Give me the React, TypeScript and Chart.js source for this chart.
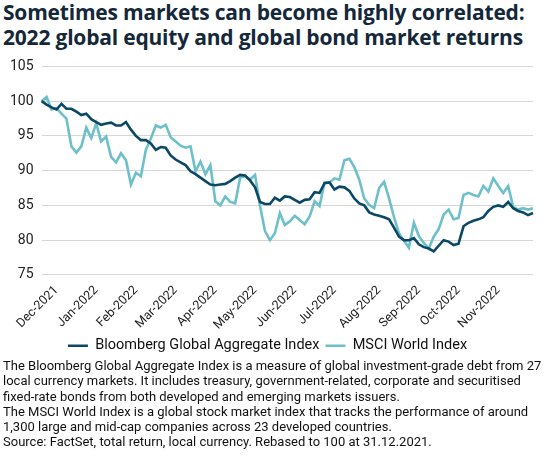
import { useEffect, useRef } from "react";
import Chart from "chart.js/auto";

// sampled roughly every 2-3 trading days, 31.12.2021 -> end of 2022
const bondIndex = [
  100.0, 99.5, 99.1, 98.8, 99.6, 98.9, 98.9, 98.5, 98.0, 98.2,
  97.4, 97.0, 96.6, 96.8, 96.9, 96.5, 96.5, 97.0, 95.9, 95.0,
  94.4, 94.4, 93.9, 93.0, 93.4, 93.3, 92.2, 91.6, 91.2, 90.8,
  89.9, 89.5, 89.0, 88.5, 88.0, 87.9, 88.0, 88.1, 88.5, 89.0,
  89.4, 89.3, 88.6, 87.6, 85.5, 85.2, 85.2, 86.1, 85.7, 86.3,
  86.2, 85.8, 85.4, 85.8, 85.9, 86.9, 86.8, 88.2, 88.3, 87.3,
  87.7, 87.6, 87.1, 86.0, 85.3, 85.0, 84.0, 83.7, 83.5, 83.3,
  83.0, 81.8, 80.5, 80.0, 80.0, 80.3, 79.4, 79.0, 78.8, 78.4,
  79.2, 80.0, 79.8, 79.3, 79.5, 82.0, 82.5, 82.8, 83.0, 83.3,
  84.2, 84.8, 85.0, 84.8, 85.5, 84.6, 84.2, 84.0, 83.6, 83.9,
];

const equityIndex = [
  100.0, 100.6, 98.8, 99.0, 98.2, 97.5, 93.5, 92.6, 93.5, 96.2,
  94.7, 96.8, 94.2, 94.9, 92.0, 91.2, 92.5, 91.5, 88.0, 89.7,
  89.2, 93.0, 94.6, 96.5, 96.2, 96.6, 94.8, 94.2, 93.6, 93.3,
  93.5, 89.9, 91.3, 89.5, 90.8, 85.6, 85.0, 86.3, 85.5, 85.3,
  89.0, 89.2, 88.7, 89.4, 85.0, 81.3, 80.0, 81.0, 83.9, 82.2,
  82.7, 83.5, 82.9, 82.3, 83.4, 85.6, 84.9, 88.3, 88.3, 88.9,
  88.7, 91.5, 91.7, 90.5, 88.7, 86.0, 85.1, 84.6, 87.5, 88.4,
  86.0, 83.3, 81.0, 79.9, 78.9, 82.5, 80.6, 79.6, 78.8, 80.5,
  81.6, 83.7, 84.4, 83.0, 83.2, 86.5, 86.8, 86.5, 86.3, 87.8,
  87.0, 88.9, 87.8, 86.8, 87.8, 84.8, 84.4, 84.6, 84.4, 84.6,
];

const monthLabels = [
  "Dec-2021", "Jan-2022", "Feb-2022", "Mar-2022", "Apr-2022", "May-2022",
  "Jun-2022", "Jul-2022", "Aug-2022", "Sep-2022", "Oct-2022", "Nov-2022",
];
const monthTickIdx = [3, 11, 19, 27, 35, 43, 51, 59, 68, 76, 84, 92];

const seriesNames = ["Bloomberg Global Aggregate Index", "MSCI World Index"];

const notes = [
  "The Bloomberg Global Aggregate Index is a measure of global investment-grade debt from 27",
  "local currency markets. It includes treasury, government-related, corporate and securitised",
  "fixed-rate bonds from both developed and emerging markets issuers.",
  "The MSCI World Index is a global stock market index that tracks the performance of around",
  "1,300 large and mid-cap companies across 23 developed countries.",
  "Source: FactSet, total return, local currency. Rebased to 100 at 31.12.2021.",
];

const FONT = "Roboto, 'Liberation Sans', sans-serif";

export default function App() {
  const chartRef = useRef(null);
  const chartInstance = useRef(null);

  useEffect(() => {
    if (chartInstance.current) {
      chartInstance.current.destroy();
    }

    const labels = bondIndex.map((_, i) => {
      const m = monthTickIdx.indexOf(i);
      return m >= 0 ? monthLabels[m] : "";
    });

    chartInstance.current = new Chart(chartRef.current, {
      type: "line",
      data: {
        labels,
        datasets: [
          {
            label: seriesNames[0],
            data: bondIndex,
            borderColor: "#0b4865",
            backgroundColor: "#0b4865",
            borderWidth: 2.6,
            pointRadius: 0,
            tension: 0,
          },
          {
            label: seriesNames[1],
            data: equityIndex,
            borderColor: "#6dc0ca",
            backgroundColor: "#6dc0ca",
            borderWidth: 2.6,
            pointRadius: 0,
            tension: 0,
          },
        ],
      },
      options: {
        responsive: true,
        maintainAspectRatio: false,
        animation: false,
        layout: { padding: { left: 2, right: 14, top: 6, bottom: 0 } },
        plugins: {
          tooltip: { enabled: false },
          legend: {
            position: "bottom",
            labels: {
              usePointStyle: true,
              pointStyle: "line",
              pointStyleWidth: 20,
              color: "#111",
              padding: 6,
              font: { family: FONT, size: 14.5 },
            },
          },
        },
        scales: {
          y: {
            min: 75,
            max: 105,
            ticks: {
              stepSize: 5,
              color: "#222",
              padding: 8,
              font: { family: FONT, size: 14 },
            },
            grid: { color: "#d6d6d6", drawTicks: false },
            border: { display: false },
          },
          x: {
            grid: { display: false },
            border: { display: false },
            ticks: {
              autoSkip: false,
              minRotation: 45,
              maxRotation: 45,
              color: "#222",
              padding: 0,
              font: { family: FONT, size: 12.5 },
            },
          },
        },
      },
    });

    return () => {
      if (chartInstance.current) {
        chartInstance.current.destroy();
      }
    };
  }, []);

  return (
    <div style={{ position: "absolute", left: 0, top: 0, width: 547, height: 456, background: "#fff", fontFamily: FONT }}>
      <div style={{ position: "absolute", left: 3, top: 0, fontFamily: "'Open Sans', sans-serif", fontSize: 21, fontWeight: 700, lineHeight: "25px", color: "#14283a", whiteSpace: "nowrap", letterSpacing: -0.2 }}>
        Sometimes markets can become highly correlated:
        <br />
        2022 global equity and global bond market returns
      </div>
      <div style={{ position: "absolute", left: 0, top: 50, width: 547, height: 313 }}>
        <canvas ref={chartRef} />
      </div>
      <div style={{ position: "absolute", left: 3, top: 358, fontSize: 13, lineHeight: "15.3px", color: "#111", whiteSpace: "nowrap" }}>
        {notes.map((t, i) => (
          <div key={i}>{t}</div>
        ))}
      </div>
    </div>
  );
}
